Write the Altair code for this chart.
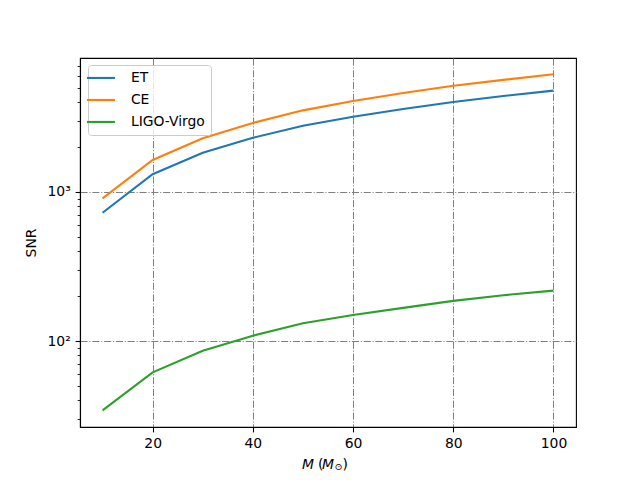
import altair as alt
import pandas as pd

masses = [10, 20, 30, 40, 50, 60, 70, 80, 90, 100]
snr_et = [726, 1315, 1836, 2312, 2785, 3200, 3606, 4018, 4406, 4786]
snr_ce = [907, 1640, 2292, 2904, 3530, 4082, 4613, 5164, 5650, 6166]
snr_lv = [34.3, 61.6, 86.1, 108.6, 131.5, 149.4, 167, 186, 203, 218]
series = ["ET", "CE", "LIGO-Virgo"]
colors = ["#1f77b4", "#ff7f0e", "#2ca02c"]
x_ticks = [20, 40, 60, 80, 100]
y_ticks = [30, 40, 50, 60, 70, 80, 90, 100, 200, 300, 400, 500, 600, 700, 800, 900,
           1000, 2000, 3000, 4000, 5000, 6000, 7000]

rows = []
for name, vals in zip(series, [snr_et, snr_ce, snr_lv]):
    for m, v in zip(masses, vals):
        rows.append({"M": m, "SNR": v, "detector": name})
df = pd.DataFrame(rows)

major = "abs(log(datum.value)/LN10 - round(log(datum.value)/LN10)) < 1e-6"
FONT = "DejaVu Sans"
FS = 13.9

lines = alt.Chart(df).mark_line(strokeWidth=2.1, clip=True).encode(
    x=alt.X("M:Q",
            scale=alt.Scale(domain=[5.5, 104.5], nice=False, zero=False),
            axis=alt.Axis(values=x_ticks, title=None, grid=True,
                          gridColor="#808080", gridDash=[7.1, 1.8, 1.1, 1.8], gridWidth=1.0,
                          tickSize=4.9, tickWidth=1.1, tickColor="black",
                          labelPadding=4.9, labelFontSize=FS, labelFont=FONT, labelColor="black",
                          domainColor="black", domainWidth=1.1, labelFlush=False)),
    y=alt.Y("SNR:Q",
            scale=alt.Scale(type="log", domain=[26.5, 7925], nice=False),
            axis=alt.Axis(values=y_ticks, title="SNR", grid=True,
                          gridColor="#808080", gridDash=[7.1, 1.8, 1.1, 1.8], gridWidth=1.0,
                          gridOpacity={"condition": {"test": major, "value": 1}, "value": 0},
                          tickSize={"condition": {"test": major, "value": 4.9}, "value": 2.8},
                          tickWidth={"condition": {"test": major, "value": 1.1}, "value": 0.85},
                          tickColor="black",
                          labelExpr="datum.value == 100 ? '10²' : (datum.value == 1000 ? '10³' : '')",
                          labelOverlap=False, labelBound=False, labelFlush=False,
                          labelPadding=4.9, labelFontSize=FS, labelFont=FONT, labelColor="black",
                          titleFont=FONT, titleFontSize=FS, titleFontWeight="normal",
                          titleColor="black", titlePadding=8,
                          domainColor="black", domainWidth=1.1)),
    color=alt.Color("detector:N",
                    scale=alt.Scale(domain=series, range=colors),
                    legend=alt.Legend(title=None, orient="none", legendX=8, legendY=7,
                                      symbolType="M-2.8,0H2.8", symbolSize=100,
                                      symbolStrokeWidth=2.1, labelFont=FONT, labelFontSize=FS,
                                      labelColor="black", labelOffset=23, rowPadding=7,
                                      padding=6, strokeColor="#cccccc", fillColor="rgba(255,255,255,0.8)",
                                      cornerRadius=3)),
)

# x-axis title "M (M_⊙)" built from pieces (italic M, subscript ⊙)
title_parts = pd.DataFrame({
    "t": ["M", "(", "M", "⊙", ")"],
    "px": [222, 238, 242, 254.5, 262.5],
    "py": [410.5, 410.5, 410.5, 411.5, 410.5],
    "style": ["italic", "normal", "italic", "normal", "normal"],
    "size": [FS, FS, FS, 9.7, FS],
})

def part(i):
    r = title_parts.iloc[i]
    return alt.Chart(title_parts.iloc[[i]]).mark_text(
        align="left", baseline="alphabetic", font=FONT, fontSize=float(r["size"]),
        fontStyle=r["style"], color="black", clip=False,
    ).encode(text="t:N", x=alt.value(float(r["px"])), y=alt.value(float(r["py"])))

chart = alt.layer(lines, *[part(i) for i in range(len(title_parts))]).properties(
    width=496, height=369,
    autosize=alt.AutoSizeParams(type="none"),
    padding={"left": 72, "top": 50, "right": 56, "bottom": 45},
).configure_view(stroke="black", strokeWidth=1.1)

chart.save("out.html", embed_options={"renderer": "svg", "actions": False})
